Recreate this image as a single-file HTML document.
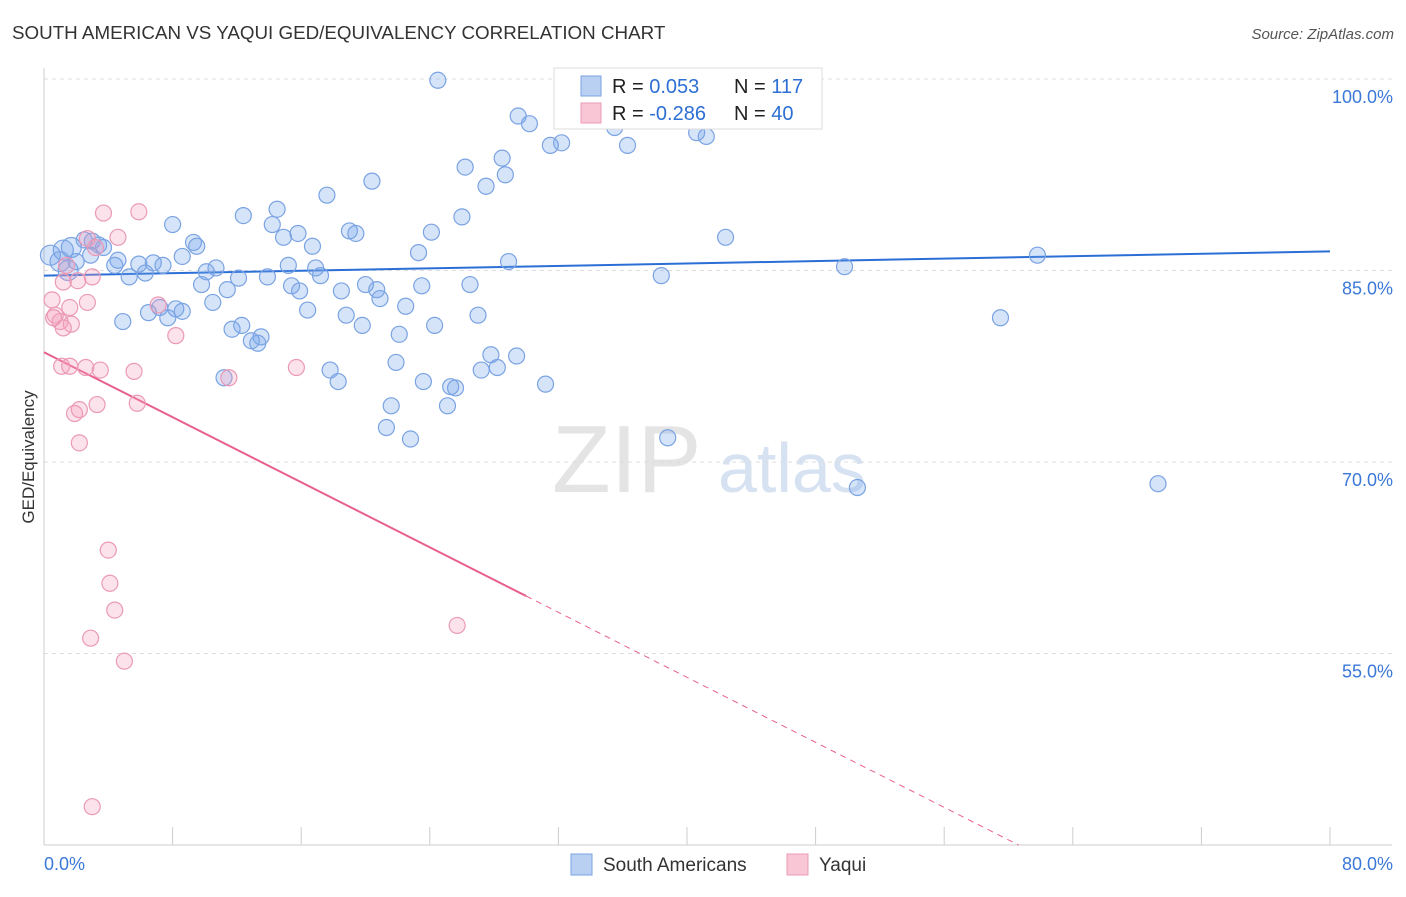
<!DOCTYPE html>
<html><head><meta charset="utf-8"><style>
body{margin:0;background:#fff;font-family:"Liberation Sans",sans-serif}
svg text{font-family:"Liberation Sans",sans-serif}
</style></head><body>
<svg id="chart" width="1406" height="892" viewBox="0 0 1406 892">
<text x="12" y="39" font-size="18.8" fill="#333">SOUTH AMERICAN VS YAQUI GED/EQUIVALENCY CORRELATION CHART</text>
<text x="1394" y="39" font-size="15" fill="#555" font-style="italic" text-anchor="end">Source: ZipAtlas.com</text>
<text transform="translate(34,457) rotate(-90)" font-size="17" fill="#333" text-anchor="middle">GED/Equivalency</text>
<g><text x="552" y="492" font-size="96" fill="#e4e4e4" font-family="Liberation Serif">ZIP</text><text x="718" y="492" font-size="70" fill="#d6e2f2">atlas</text></g>
<g id="grid"></g><g id="axes"></g><g id="lines"></g><g id="pts"></g>
<g>
<rect x="554" y="68" width="268" height="61" fill="#fff" stroke="#ddd"/>
<rect x="581" y="76" width="20" height="20" fill="#b9d0f3" stroke="#7aa3e3"/>
<rect x="581" y="103" width="20" height="20" fill="#f9c6d6" stroke="#eb9ab5"/>
<text x="612" y="93" font-size="20" fill="#222">R = <tspan fill="#2d6fd3"> 0.053</tspan></text>
<text x="734" y="93" font-size="20" fill="#222">N = <tspan fill="#2d6fd3">117</tspan></text>
<text x="612" y="120" font-size="20" fill="#222">R = <tspan fill="#2d6fd3">-0.286</tspan></text>
<text x="734" y="120" font-size="20" fill="#222">N = <tspan fill="#2d6fd3">40</tspan></text>
</g>
<g>
<rect x="571" y="854" width="21" height="21" fill="#b9d0f3" stroke="#7aa3e3"/>
<text x="603" y="871" font-size="19" fill="#333">South Americans</text>
<rect x="787" y="854" width="21" height="21" fill="#f9c6d6" stroke="#eb9ab5"/>
<text x="819" y="871" font-size="19" fill="#333">Yaqui</text>
</g>
</svg>
<script>
const blueX=[24.5,32.7,35.3,29.5,30.2,35.5,40.6,41.2,31.5,32.2,36.3,28.5,28.7,26.2,27.5,20.4,17.6,14.5,12.4,26.0,8.0,14.2,19.0,19.4,24.1,14.9,15.8,16.7,9.3,9.5,42.4,23.3,8.6,61.8,28.9,4.6,5.9,6.8,7.4,10.7,15.2,16.9,5.3,6.3,10.1,12.1,13.9,17.2,49.8,38.4,26.5,15.4,15.9,18.5,20.0,20.7,20.9,23.5,9.8,11.4,10.5,8.6,6.5,7.2,7.7,8.2,16.4,22.5,27.0,4.9,11.7,12.3,13.5,12.9,13.3,18.8,19.8,22.1,24.3,59.5,11.2,21.9,27.8,29.4,17.8,18.3,27.2,28.2,23.6,25.3,25.6,31.2,21.6,25.1,21.3,22.8,38.8,50.6,69.3,1.2,1.7,1.0,2.0,2.9,3.4,3.7,2.5,3.0,4.4,0.4,1.5];
const blueY=[99.9,99.9,99.9,97.1,96.5,96.2,95.8,95.5,94.8,95.0,94.8,93.8,92.5,93.1,91.6,92.0,90.9,89.8,89.3,89.2,88.6,88.6,88.1,87.9,88.0,87.6,87.9,86.9,87.2,86.9,87.6,86.4,86.1,86.2,85.7,85.8,85.5,85.6,85.4,85.2,85.4,85.2,84.5,84.8,84.9,84.4,84.5,84.6,85.3,84.6,83.9,83.8,83.4,83.4,83.9,83.5,82.8,83.8,83.9,83.5,82.5,81.8,81.7,82.1,81.3,82.0,81.9,82.2,81.5,81.0,80.4,80.7,79.8,79.5,79.3,81.5,80.7,80.0,80.7,81.3,76.6,77.8,78.4,78.3,77.2,76.3,77.2,77.4,76.3,75.9,75.8,76.1,74.4,74.4,72.7,71.8,71.9,68.0,68.3,86.6,86.8,85.7,85.7,86.2,87.0,86.8,87.4,87.3,85.4,86.2,85.0];
const pinkX=[3.7,5.9,2.7,4.6,3.2,1.4,3.0,2.1,1.2,0.5,1.6,0.7,1.0,1.7,1.2,2.7,7.1,8.2,1.1,1.6,2.6,3.5,5.6,3.3,5.8,1.9,2.2,2.2,11.5,15.7,4.0,4.1,4.4,2.9,5.0,25.7,3.0,0.6];
const pinkY=[89.5,89.6,87.5,87.6,86.8,85.4,84.5,84.2,84.1,82.7,82.1,81.5,81.0,80.8,80.5,82.5,82.3,79.9,77.5,77.5,77.4,77.2,77.1,74.5,74.6,73.8,74.1,71.5,76.6,77.4,63.1,60.5,58.4,56.2,54.4,57.2,43.0,81.3];
const blueTrend=[84.6,86.5];
const pinkTrend=[78.6,59.5,30];
const yTicks=[100,85,70,55];
const xTickCount=10;
const NS="http://www.w3.org/2000/svg";
const X0=44,X1=1330,YT=79,YB=845;
const sx=v=>X0+(v/80)*(X1-X0);
const sy=v=>YT+(100-v)/60*(YB-YT);
function mk(tag,attrs,parent){const e=document.createElementNS(NS,tag);for(const k in attrs)e.setAttribute(k,attrs[k]);parent.appendChild(e);return e;}
const grid=document.getElementById('grid'),axes=document.getElementById('axes'),lines=document.getElementById('lines'),pts=document.getElementById('pts');
yTicks.forEach(t=>{
 const l=mk('line',{x1:X0,x2:1392,y1:sy(t),y2:sy(t),stroke:'#ddd','stroke-dasharray':'4,4'},grid);
 
 
 const tx=mk('text',{x:1393,y:sy(t)+24,'font-size':18,fill:'#3b78d8','text-anchor':'end'},grid);
 tx.textContent=t.toFixed(1)+'%';
 
 
});
let a=mk('line',{x1:X0,x2:X0,y1:68,y2:YB,stroke:'#ccc'},axes);


a=mk('line',{x1:X0,x2:1392,y1:YB,y2:YB,stroke:'#ccc'},axes);


for(let i=0;i<=xTickCount;i++){
 const t=mk('line',{x1:sx(i*8),x2:sx(i*8),y1:YB-18,y2:YB,stroke:'#ccc'},axes);
 
 
}
let xl=mk('text',{x:44,y:870,'font-size':18,fill:'#3b78d8'},axes);xl.textContent='0.0%';


xl=mk('text',{x:1393,y:870,'font-size':18,fill:'#3b78d8','text-anchor':'end'},axes);xl.textContent='80.0%';


for(let i=0;i<blueX.length;i++){
 const c=mk('circle',{cx:sx(blueX[i]),cy:sy(blueY[i]),r:(blueX[i]<2?10:8),fill:'rgba(120,165,235,0.3)',stroke:'#7aa3e3','stroke-width':1.2},pts);
 
 
}
for(let i=0;i<pinkX.length;i++){
 const c=mk('circle',{cx:sx(pinkX[i]),cy:sy(pinkY[i]),r:8,fill:'rgba(245,160,190,0.3)',stroke:'#eb9ab5','stroke-width':1.2},pts);
 
 
}
let ln=mk('line',{x1:sx(0),y1:sy(blueTrend[0]),x2:sx(80),y2:sy(blueTrend[1]),stroke:'#2b6fd6','stroke-width':2},lines);


const slope=(pinkTrend[1]-pinkTrend[0])/pinkTrend[2];
ln=mk('line',{x1:sx(0),y1:sy(pinkTrend[0]),x2:sx(pinkTrend[2]),y2:sy(pinkTrend[1]),stroke:'#e8608f','stroke-width':2},lines);


const xEnd=(40-pinkTrend[0])/slope;
ln=mk('line',{x1:sx(pinkTrend[2]),y1:sy(pinkTrend[1]),x2:sx(xEnd),y2:sy(40),stroke:'#e8608f','stroke-width':1,'stroke-dasharray':'6,5'},lines);


</script>
</body></html>
